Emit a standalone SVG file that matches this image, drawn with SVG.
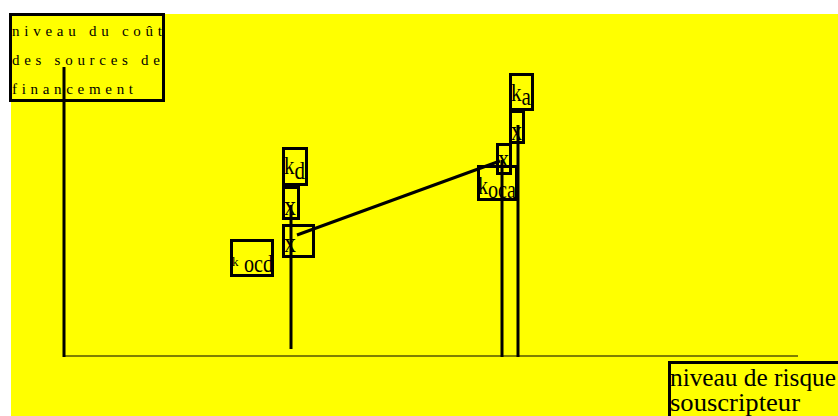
<svg xmlns="http://www.w3.org/2000/svg" width="838" height="416" viewBox="0 0 838 416">
<style>
.box{fill:none;stroke:#000;stroke-width:3}
.t{font-family:"Liberation Serif","Times New Roman",serif;fill:#000}
.ln{stroke:#000;stroke-width:3;fill:none}
</style>
<rect x="0" y="0" width="838" height="416" fill="#fff"/>
<rect x="11" y="14" width="827" height="402" fill="#ffff00"/>
<g id="connectors">
<line class="ln" x1="64" y1="67" x2="64" y2="357"/>
<line x1="64" y1="356" x2="798" y2="356" stroke="#000" stroke-width="1.2"/>
<line class="ln" x1="291" y1="205" x2="291" y2="349"/>
<line class="ln" x1="502" y1="160" x2="502" y2="357"/>
<line class="ln" x1="518" y1="125" x2="518" y2="357"/>
<line class="ln" x1="297" y1="235" x2="500" y2="161"/>
</g>
<g id="y-axis-label">
<rect class="box" x="10.5" y="14.5" width="153" height="86"/>
<text class="t" font-size="15" x="12" y="36" textLength="150" lengthAdjust="spacing">niveau du coût</text>
<text class="t" font-size="15" x="12" y="65" textLength="148" lengthAdjust="spacing">des sources de</text>
<text class="t" font-size="15" x="12" y="94" textLength="121" lengthAdjust="spacing">financement</text>
</g>
<g id="x-axis-label">
<rect class="box" x="669.5" y="362.5" width="175" height="60"/>
<text class="t" font-size="25" x="670" y="386" textLength="166" lengthAdjust="spacingAndGlyphs">niveau de risque</text>
<text class="t" font-size="25" x="670" y="411" textLength="130" lengthAdjust="spacingAndGlyphs">souscripteur</text>
</g>
<g id="kocd">
<rect class="box" x="231.5" y="240.5" width="41" height="35"/>
<text class="t" x="232" y="266"><tspan font-size="13">k</tspan><tspan font-size="26" x="244" dy="6" textLength="29" lengthAdjust="spacingAndGlyphs">ocd</tspan></text>
</g>
<g id="kd">
<rect class="box" x="283.5" y="148.5" width="23" height="36"/>
<text class="t" font-size="26" x="284" y="174" textLength="21" lengthAdjust="spacingAndGlyphs">k<tspan dy="5">d</tspan></text>
</g>
<g id="x1">
<rect class="box" x="283.5" y="187.5" width="15" height="31"/>
<text class="t" font-size="28" x="284" y="215" textLength="12" lengthAdjust="spacingAndGlyphs">x</text>
</g>
<g id="x2">
<rect class="box" x="283.5" y="225.5" width="30" height="31"/>
<text class="t" font-size="28" x="284" y="252" textLength="12" lengthAdjust="spacingAndGlyphs">x</text>
</g>
<g id="ka">
<rect class="box" x="510.5" y="74.5" width="22" height="35"/>
<text class="t" font-size="26" x="511" y="101" textLength="20" lengthAdjust="spacingAndGlyphs">k<tspan dy="4">a</tspan></text>
</g>
<g id="x3">
<rect class="box" x="510.5" y="111.5" width="13" height="31"/>
<text class="t" font-size="28" x="511" y="140" textLength="11" lengthAdjust="spacingAndGlyphs">x</text>
</g>
<g id="x4">
<rect class="box" x="497.5" y="144.5" width="13" height="29"/>
<text class="t" font-size="28" x="498" y="168" textLength="11" lengthAdjust="spacingAndGlyphs">x</text>
</g>
<g id="koca">
<rect class="box" x="478.5" y="166.5" width="38" height="33"/>
<text class="t" font-size="26" x="478" y="194" textLength="38" lengthAdjust="spacingAndGlyphs">k<tspan dy="4">oca</tspan></text>
</g>
</svg>
